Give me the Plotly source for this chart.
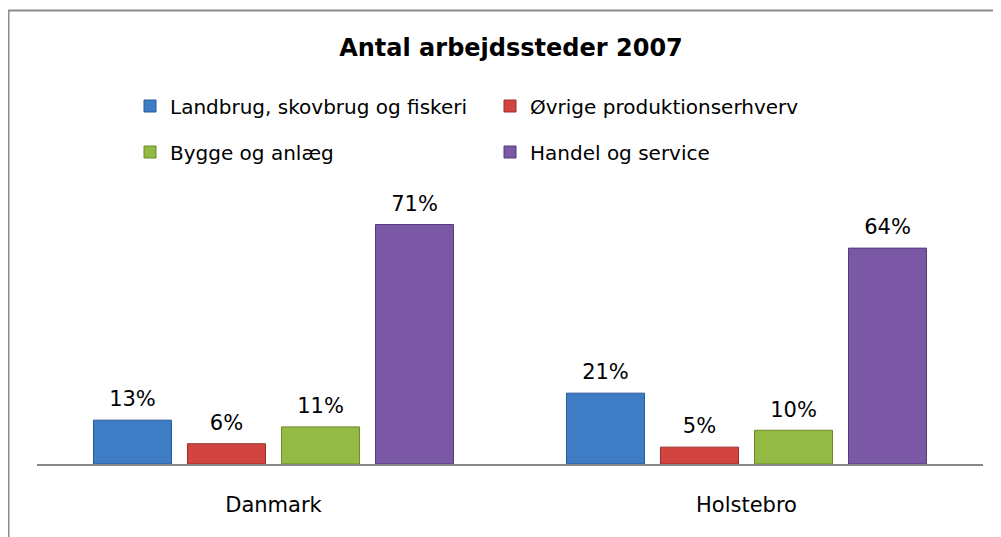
import plotly.graph_objects as go

categories = ["Danmark", "Holstebro"]
series_names = ["Landbrug, skovbrug og fiskeri", "Øvrige produktionserhverv",
                "Bygge og anlæg", "Handel og service"]
landbrug = [0.13, 0.21]
oevrige = [0.06, 0.05]
bygge = [0.11, 0.10]
handel = [0.71, 0.64]
series_values = [landbrug, oevrige, bygge, handel]

colors = ["#3F7CC6", "#D2443F", "#92BA45", "#7B58A6"]
edges = ["#2A5A96", "#9A2E2B", "#6A8A2C", "#553B7A"]
legend_ids = ["legend", "legend", "legend2", "legend2"]

FONT = "DejaVu Sans"
OFF = 8  # default page body margin
W, H = 1001 - OFF, 537 - OFF
L, R, T, B = 37 - OFF, 18, 211 - OFF, 73
pw, ph = W - L - R, H - T - B
GAP = 0.205

fig = go.Figure()
for name, vals, c, e, lg in zip(series_names, series_values, colors, edges, legend_ids):
    fig.add_trace(go.Bar(
        x=categories, y=vals, name=name,
        marker=dict(color=c, line=dict(color=e, width=1)),
        legend=lg, hoverinfo="x+y+name",
    ))
# value labels placed just above each bar
for name, vals in zip(series_names, series_values):
    fig.add_trace(go.Scatter(
        x=categories, y=vals, mode="markers+text", showlegend=False,
        text=[f"{v:.0%}" for v in vals], textposition="top center",
        textfont=dict(family=FONT, size=21, color="#000000"),
        marker=dict(size=12, color="rgba(0,0,0,0)"),
        cliponaxis=False, hoverinfo="skip", name=name,
    ))

def px(p):  # page pixel x -> paper
    return (p - OFF - L) / pw

def py(p):  # page pixel y -> paper
    return (H - B - (p - OFF)) / ph

legend_font = dict(family=FONT, size=20, color="#000000")
fig.update_layout(
    width=W, height=H,
    margin=dict(l=L, r=R, t=T, b=B),
    paper_bgcolor="white", plot_bgcolor="white",
    barmode="group", bargap=GAP, bargroupgap=0.17,
    scattermode="group", scattergap=GAP,
    title=dict(text="<b>Antal arbejdssteder 2007</b>", x=(511 - OFF) / W, xref="container",
               xanchor="center", y=1 - (48 - OFF) / H, yanchor="middle",
               font=dict(family=FONT, size=24, color="#000000")),
    legend=dict(orientation="h", x=px(130), xanchor="left", y=py(106), yanchor="middle",
                entrywidth=315, font=legend_font,
                bgcolor="rgba(0,0,0,0)", borderwidth=0),
    legend2=dict(orientation="h", x=px(130), xanchor="left", y=py(152), yanchor="middle",
                 entrywidth=315, font=legend_font,
                 bgcolor="rgba(0,0,0,0)", borderwidth=0),
    xaxis=dict(showline=True, linecolor="#868686", linewidth=2, ticks="",
               tickfont=dict(family=FONT, size=21, color="#000000"),
               ticklabelstandoff=21, showgrid=False, zeroline=False),
    yaxis=dict(range=[0, 0.75], visible=False, showgrid=False, zeroline=False),
    shapes=[dict(type="rect", xref="paper", yref="paper",
                 x0=px(8.5), x1=px(1020), y0=py(560), y1=py(10.5),
                 line=dict(color="#8C8C8C", width=2), fillcolor="rgba(0,0,0,0)",
                 layer="below")],
)

fig.write_html("out.html")
